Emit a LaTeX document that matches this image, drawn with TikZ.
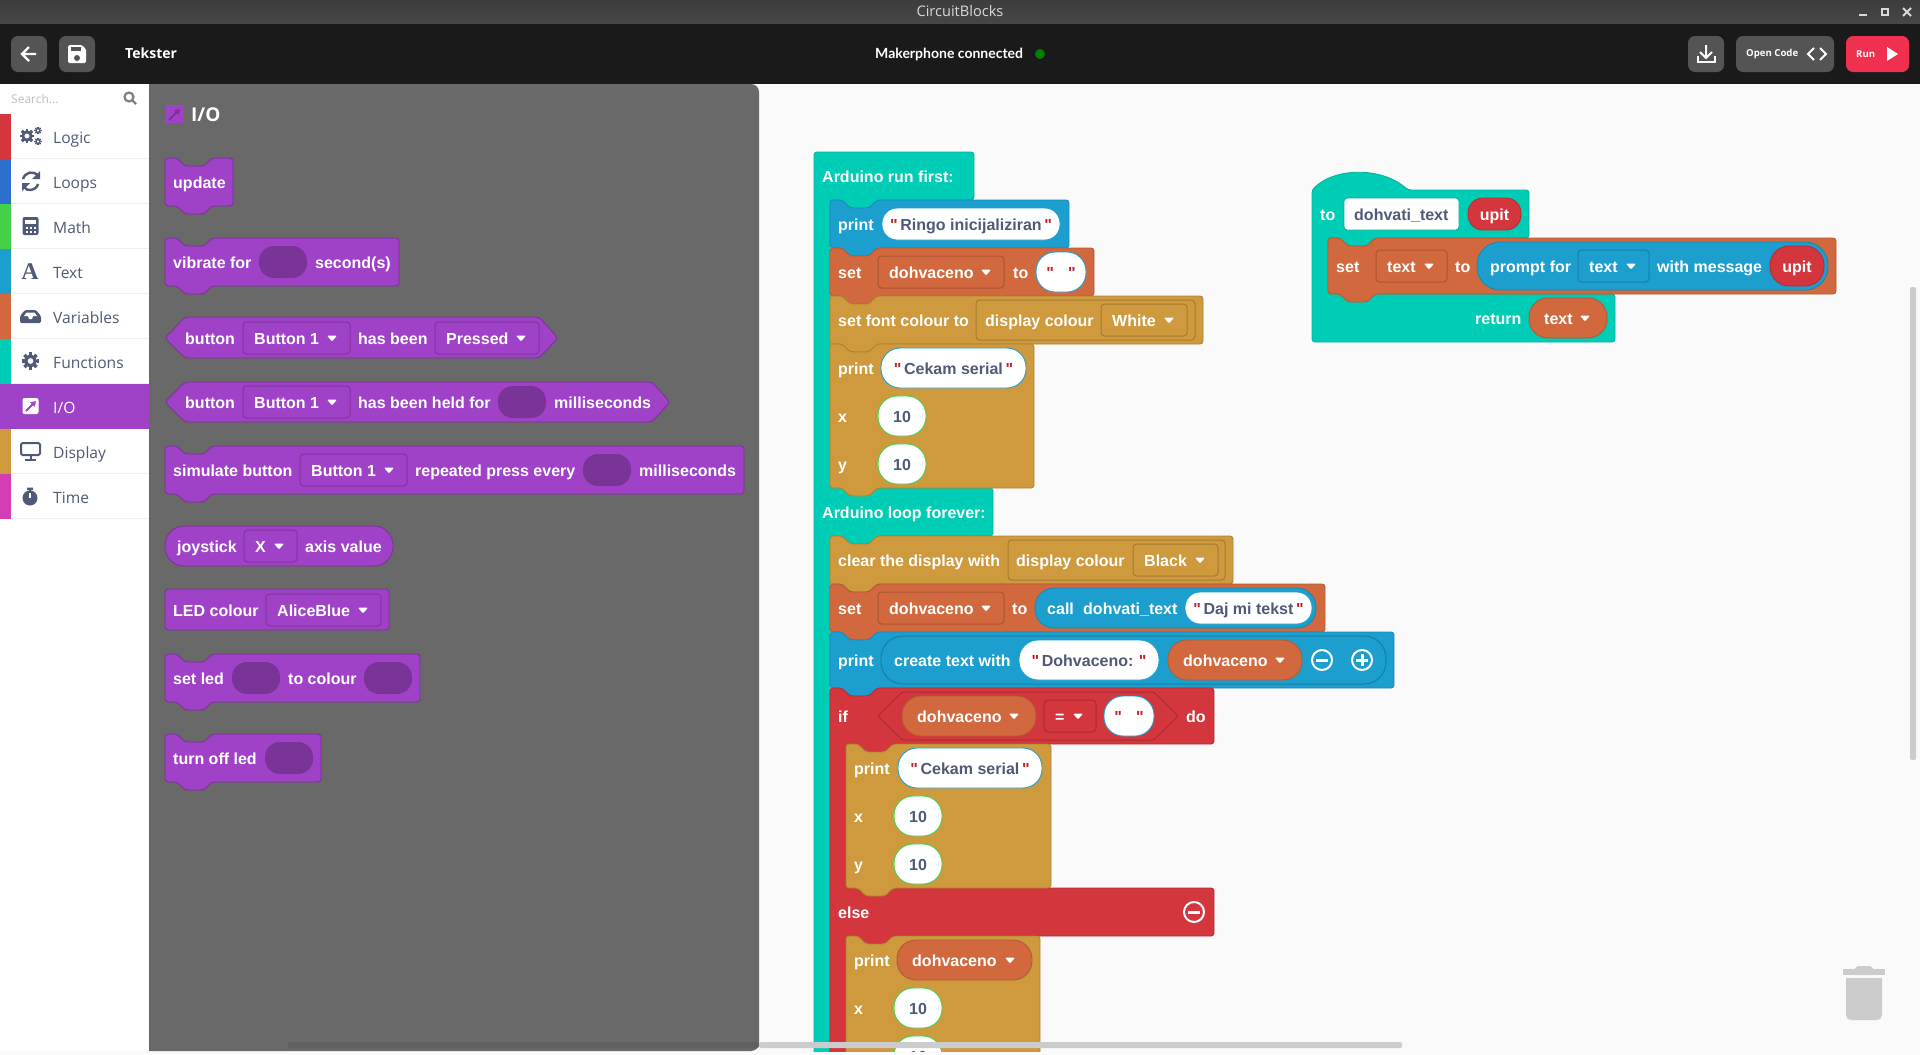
\documentclass[tikz,border=0pt]{standalone}
\usepackage{fontspec}
\setmainfont{Liberation Sans}
\newfontfamily\uifont{Open Sans}
\newfontfamily\latofont{Lato}
\newfontfamily\qtfont{Liberation Sans}
\usetikzlibrary{arrows.meta}
\definecolor{barhi}{HTML}{3D3D3D}
\definecolor{barlo}{HTML}{474747}
\definecolor{toolbar}{HTML}{1A1A1A}
\definecolor{toolbtn}{HTML}{545454}
\definecolor{runred}{HTML}{F0304F}
\definecolor{workbg}{HTML}{FAFAFA}
\definecolor{flyoutgray}{HTML}{696969}
\definecolor{scrollgray}{HTML}{CCCCCC}
\definecolor{icongray}{HTML}{505A78}
\definecolor{seplight}{HTML}{EEEEEE}
\definecolor{iopurple}{HTML}{9F42C8}
\definecolor{slotpurple}{HTML}{7A3396}
\definecolor{logicred}{HTML}{D3363C}
\definecolor{loopblue}{HTML}{2C6FCC}
\definecolor{mathgreen}{HTML}{44D049}
\definecolor{textblue}{HTML}{1C9FCE}
\definecolor{varorange}{HTML}{D2693E}
\definecolor{functeal}{HTML}{00CDB5}
\definecolor{dispgold}{HTML}{CE9A3D}
\definecolor{timepink}{HTML}{D53DB5}
\definecolor{quotered}{HTML}{C0202A}
\newcommand{\blockfont}{\fontsize{16}{18}\selectfont\bfseries}
\newcommand{\catfont}{\uifont\fontsize{15.6}{18}\selectfont}
\newcommand{\qt}{\textcolor{quotered}{\qtfont\bfseries"}}
% block with a notch on top and a tab below
\newcommand{\blockpath}[4]{(#1,#2) -- (#1+12,#2) -- (#1+20,#2+8) -- (#1+39,#2+8) -- (#1+47,#2) -- (#3,#2) -- (#3,#4) -- (#1+47,#4) -- (#1+39,#4+8) -- (#1+20,#4+8) -- (#1+12,#4) -- (#1,#4) -- cycle}
\newcommand{\ddfield}[5]{\draw[dropbox] (#1,#3-16) rectangle (#2,#3+16);
	\node[blocktxt] (#4) at (#1+11,#3) {#5};
	\fill[white, rounded corners=1pt] (#2-23,#3-2.5) -- (#2-13,#3-2.5) -- (#2-18,#3+3.5) -- cycle;}
\newcommand{\varpill}[5]{\draw[varfield] (#1,#3-20) rectangle (#2,#3+20);
	\node[blocktxt] (#4) at (#1+15,#3) {#5};
	\fill[white, rounded corners=1pt] (#2-27,#3-2.5) -- (#2-17,#3-2.5) -- (#2-22,#3+3.5) -- cycle;}
\newcommand{\slotoval}[3]{\fill[slotpurple, rounded corners=15pt] (#1,#3-16) rectangle (#2,#3+16);}
\newcommand{\strfld}[6]{\draw[strfield, rounded corners={(#4-#2)/2*1pt-1pt}] (#1,#2) rectangle (#3,#4);
	\node[graytxt, anchor=center] (#5) at ({(#1+#3)/2},{(#2+#4)/2}) {#6};}
\newcommand{\numfld}[3]{\draw[numfield] (#1,#2-20) rectangle (#1+48,#2+20);
	\node[graytxt, anchor=center] (#3) at (#1+24,#2) {10};}
\newcommand{\minusbtn}[2]{\draw[white, line width=2pt] (#1,#2) circle [radius=10];
	\draw[white, line width=3pt] (#1-6,#2) -- (#1+6,#2);}
\newcommand{\plusbtn}[2]{\minusbtn{#1}{#2}
	\draw[white, line width=3pt] (#1,#2-6) -- (#1,#2+6);}
\newcommand{\gearicon}[3]{\foreach \a in {0,45,...,315} \draw[icongray, line width=#3*0.55pt] (#1,#2) ++(\a:#3) -- ++(\a:#3*0.42);
	\draw[icongray, line width=#3*0.55pt] (#1,#2) circle [radius=#3*0.8];}
\begin{document}
\begin{tikzpicture}
	[x=1pt, y=-1pt,
	blocktxt/.style={anchor=west, inner sep=0pt, text=white, font=\blockfont, text height=13.5pt, text depth=0pt},
	graytxt/.style={blocktxt, text=icongray},
	cattxt/.style={anchor=west, inner sep=0pt, text=icongray, font=\catfont, text height=13.5pt, text depth=0pt},
	uibtn/.style={fill=toolbtn, rounded corners=7pt},
	iconline/.style={draw=icongray, line width=2.4pt},
	ioblock/.style={fill=iopurple, draw=slotpurple, line width=0.9pt, rounded corners=3pt},
	tealblock/.style={fill=functeal, draw=functeal!88!black, line width=0.9pt, rounded corners=3pt},
	blueblock/.style={fill=textblue, draw=textblue!88!black, line width=0.9pt, rounded corners=3pt},
	orangeblock/.style={fill=varorange, draw=varorange!85!black, line width=0.9pt, rounded corners=3pt},
	goldblock/.style={fill=dispgold, draw=dispgold!85!black, line width=0.9pt, rounded corners=3pt},
	redblock/.style={fill=logicred, draw=logicred!85!black, line width=0.9pt, rounded corners=3pt},
	dropbox/.style={draw=black, draw opacity=0.2, line width=1pt, rounded corners=3.5pt},
	varfield/.style={fill=varorange, draw=varorange!85!black, line width=0.9pt, rounded corners=19pt},
	strfield/.style={fill=white, draw=textblue, line width=0.9pt},
	numfield/.style={fill=white, draw=mathgreen, line width=0.9pt, rounded corners=19pt}]
	\useasboundingbox (0,0) rectangle (1920,1055);
	\fill[workbg] (0,0) rectangle (1920,1055);

	% title bar and tool bar
	\shade[top color=barhi, bottom color=barlo] (0,0) rectangle (1920,24);
	\fill[toolbar] (0,24) rectangle (1920,84);
	\node[inner sep=0pt, text=white!85!black, font=\uifont\fontsize{14.6}{16}\selectfont] (title) at (960,11.5) {CircuitBlocks};
	\draw[white!85!black, line width=2pt] (1859,15) -- (1867,15);
	\draw[white!85!black, line width=2pt] (1882,9) rectangle (1888,15);
	\draw[white!85!black, line width=2pt] (1903,8) -- (1911,16) (1911,8) -- (1903,16);

	\fill[uibtn] (11,36) rectangle (47,72);
	\draw[white, line width=2.2pt] (36,54) -- (22,54) (29,47) -- (22,54) -- (29,61);
	\fill[uibtn] (59,36) rectangle (95,72);
	\fill[white, rounded corners=1.5pt] (68,45) -- (82,45) -- (86,49) -- (86,63) -- (68,63) -- cycle;
	\fill[toolbtn] (71,47) rectangle (81,51);
	\fill[toolbtn] (77,58) circle [radius=3];
	\node[anchor=west, inner sep=0pt, text=white, font=\uifont\fontsize{14}{16}\selectfont\bfseries] (proj) at (125,53.5) {Tekster};

	\node[anchor=west, inner sep=0pt, text=white, font=\latofont\fontsize{14}{16}\selectfont\bfseries] (conn) at (875,54.5) {Makerphone connected};
	\fill[green!50!black] (1040,54) circle [radius=5];

	\fill[uibtn] (1688,36) rectangle (1724,72);
	\draw[white, line width=2pt] (1706,45) -- (1706,58) (1700,52) -- (1706,58) -- (1712,52);
	\draw[white, line width=2pt] (1698,56) -- (1698,62) -- (1715,62) -- (1715,56);
	\fill[uibtn] (1736,36) rectangle (1834,72);
	\node[anchor=west, inner sep=0pt, text=white, font=\uifont\fontsize{9.6}{12}\selectfont\bfseries] (opencode) at (1746,54) {Open Code};
	\draw[white, line width=2pt] (1814,48) -- (1808,54) -- (1814,60) (1820,48) -- (1826,54) -- (1820,60);
	\fill[fill=runred, rounded corners=7pt] (1846,36) rectangle (1909,72);
	\node[anchor=west, inner sep=0pt, text=white, font=\uifont\fontsize{9.6}{12}\selectfont\bfseries] (runlbl) at (1856,54) {Run};
	\fill[white] (1887,47) -- (1898,54) -- (1887,61) -- cycle;

	% main stack of the workspace
	\begin{scope}
	\clip (149,84) rectangle (1920,1051);
	\draw[tealblock] (814,152) -- (974,152) -- (974,200) -- (877,200) -- (869,208) -- (850,208) -- (842,200) -- (830,200) -- (830,488) -- (993,488) -- (993,536) -- (877,536) -- (869,544) -- (850,544) -- (842,536) -- (830,536) -- (830,1070) -- (814,1070) -- cycle;
	\node[blocktxt] (runfirst) at (822,176) {Arduino run first:};
	\node[blocktxt] (loopfor) at (822,512) {Arduino loop forever:};

	\draw[blueblock] \blockpath{830}{200}{1069}{248};
	\node[blocktxt] (pr1) at (838,224) {print};
	\strfld{882}{208}{1060}{240}{ringo}{\qt\,Ringo inicijaliziran\,\qt}

	\draw[orangeblock] \blockpath{830}{248}{1094}{296};
	\node[blocktxt] (set1) at (838,272) {set};
	\ddfield{878}{1004}{272}{dh1}{dohvaceno}
	\node[blocktxt] (to1) at (1013,272) {to};
	\strfld{1036}{252}{1086}{292}{empty1}{\qt\hspace{14pt}\qt}

	\draw[goldblock] \blockpath{830}{296}{1203}{344};
	\node[blocktxt] (font1) at (838,320) {set font colour to};
	\draw[dropbox] (976,300) rectangle (1195,340);
	\node[blocktxt] (col1) at (985,320) {display colour};
	\ddfield{1101}{1187}{320}{white1}{White}

	\draw[goldblock] \blockpath{830}{344}{1034}{488};
	\node[blocktxt] (pr2) at (838,368) {print};
	\strfld{881}{348}{1026}{388}{cekam1}{\qt\,Cekam serial\,\qt}
	\node[blocktxt] (x1) at (838,416) {x};
	\numfld{878}{416}{n1}
	\node[blocktxt] (y1) at (838,464) {y};
	\numfld{878}{464}{n2}

	\draw[goldblock] \blockpath{830}{536}{1233}{584};
	\node[blocktxt] (clear1) at (838,560) {clear the display with};
	\draw[dropbox] (1008,540) rectangle (1225,580);
	\node[blocktxt] (col2) at (1016,560) {display colour};
	\ddfield{1133}{1218}{560}{black1}{Black}

	\draw[orangeblock] \blockpath{830}{584}{1325}{632};
	\node[blocktxt] (set2) at (838,608) {set};
	\ddfield{878}{1004}{608}{dh2}{dohvaceno}
	\node[blocktxt] (to2) at (1012,608) {to};
	\draw[fill=textblue, draw=textblue!85!black, line width=0.9pt, rounded corners=19pt] (1035,588) rectangle (1316,628);
	\node[blocktxt] (call1) at (1047,608) {call};
	\node[blocktxt] (call2) at (1083,608) {dohvati\_text};
	\strfld{1185}{592}{1312}{624}{daj}{\qt\,Daj mi tekst\,\qt}

	\draw[blueblock] \blockpath{830}{632}{1394}{688};
	\node[blocktxt] (pr3) at (838,660) {print};
	\draw[dropbox, rounded corners=22pt] (881,636) rectangle (1386,684);
	\node[blocktxt] (create) at (894,660) {create text with};
	\strfld{1019}{640}{1159}{680}{dohv}{\qt\,Dohvaceno:\,\,\qt}
	\varpill{1168}{1302}{660}{dh3}{dohvaceno}
	\minusbtn{1322}{660}
	\plusbtn{1362}{660}

	\draw[redblock] (830,688) -- (842,688) -- (850,696) -- (869,696) -- (877,688) -- (1214,688) -- (1214,744) -- (893,744) -- (885,752) -- (866,752) -- (858,744) -- (846,744) -- (846,888) -- (1214,888) -- (1214,936) -- (893,936) -- (885,944) -- (866,944) -- (858,936) -- (846,936) -- (846,1070) -- (830,1070) -- cycle;
	\node[blocktxt] (if1) at (838,716) {if};
	\draw[dropbox, rounded corners=2pt] (878,716) -- (902,692) -- (1154,692) -- (1178,716) -- (1154,740) -- (902,740) -- cycle;
	\varpill{902}{1036}{716}{dh4}{dohvaceno}
	\ddfield{1044}{1096}{716}{eq1}{=}
	\strfld{1104}{696}{1154}{736}{empty2}{\qt\hspace{14pt}\qt}
	\node[blocktxt] (do1) at (1186,716) {do};

	\draw[goldblock] \blockpath{846}{744}{1051}{888};
	\node[blocktxt] (pr4) at (854,768) {print};
	\strfld{898}{748}{1042}{788}{cekam2}{\qt\,Cekam serial\,\qt}
	\node[blocktxt] (x2) at (854,816) {x};
	\numfld{894}{816}{n3}
	\node[blocktxt] (y2) at (854,864) {y};
	\numfld{894}{864}{n4}

	\node[blocktxt] (else1) at (838,912) {else};
	\minusbtn{1194}{912}

	\draw[goldblock] \blockpath{846}{936}{1040}{1100};
	\node[blocktxt] (pr5) at (854,960) {print};
	\varpill{897}{1032}{960}{dh5}{dohvaceno}
	\node[blocktxt] (x3) at (854,1008) {x};
	\numfld{894}{1008}{n5}
	\numfld{894}{1056}{n6}
	\end{scope}

	% procedure block
	\draw[tealblock] (1312,190) .. controls (1335,167) and (1382,167) .. (1408,190) -- (1529,190) -- (1529,238) -- (1375,238) -- (1367,246) -- (1348,246) -- (1340,238) -- (1328,238) -- (1328,294) -- (1615,294) -- (1615,342) -- (1312,342) -- cycle;
	\node[blocktxt] (to3) at (1320,214) {to};
	\draw[fill=white, draw=functeal!85!black, line width=0.9pt, rounded corners=3pt] (1344,198) rectangle (1459,230);
	\node[graytxt] (fname) at (1354,214) {dohvati\_text};
	\draw[fill=logicred, draw=logicred!85!black, line width=0.9pt, rounded corners=15pt] (1468,198) rectangle (1521,230);
	\node[blocktxt, anchor=center] (upit1) at (1494.5,214) {upit};
	\draw[orangeblock] \blockpath{1328}{238}{1836}{294};
	\node[blocktxt] (set3) at (1336,266) {set};
	\ddfield{1376}{1447}{266}{txt1}{text}
	\node[blocktxt] (to4) at (1455,266) {to};
	\draw[fill=textblue, draw=textblue!85!black, line width=0.9pt, rounded corners=23pt] (1477,242) rectangle (1828,290);
	\node[blocktxt] (prompt) at (1490,266) {prompt for};
	\ddfield{1578}{1649}{266}{txt2}{text}
	\node[blocktxt] (msg) at (1657,266) {with message};
	\draw[fill=logicred, draw=logicred!85!black, line width=0.9pt, rounded corners=19pt] (1770,246) rectangle (1824,286);
	\node[blocktxt, anchor=center] (upit2) at (1797,266) {upit};
	\node[blocktxt] (ret) at (1475,318) {return};
	\varpill{1529}{1607}{318}{txt3}{text}

	% trash and scrollbars
	\fill[scrollgray] (1843,969) rectangle (1885,975);
	\fill[scrollgray, rounded corners=2pt] (1853,975) -- (1856,966) -- (1872,966) -- (1875,975) -- cycle;
	\fill[scrollgray] (1846,978) -- (1882,978) -- (1882,1014) [rounded corners=5pt] -- (1882,1020) -- (1846,1020) [sharp corners] -- (1846,1014) -- cycle;
	\fill[scrollgray, rounded corners=2pt] (1910,287) rectangle (1916,760);

	% side bar
	\fill[white] (0,84) rectangle (149,1051);
	\node[anchor=west, inner sep=0pt, text=black!25, font=\uifont\fontsize{12}{14}\selectfont] (search) at (11,99) {Search...};
	\draw[gray, line width=2.2pt] (129,97) circle [radius=4.5] (132.5,100.5) -- (136,104);
	\foreach \ypos/\col/\lbl/\id in {114/logicred/Logic/logic, 159/loopblue/Loops/loops, 204/mathgreen/Math/math, 249/textblue/Text/txt, 294/varorange/Variables/vars, 339/functeal/Functions/funcs, 429/dispgold/Display/disp, 474/timepink/Time/time} {
		\fill[\col] (0,\ypos) rectangle (11,\ypos+45);
		\draw[seplight, line width=1pt] (11,\ypos+44.5) -- (149,\ypos+44.5);
		\node[cattxt] (cat\id) at (53,\ypos+23) {\lbl};
	}
	\fill[iopurple] (0,384) rectangle (149,429);
	\node[cattxt, text=white] (catio) at (53,407) {I/O};

	% side bar icons
	\gearicon{27}{136}{5.2}
	\gearicon{38}{130.5}{2.6}
	\gearicon{38}{141.5}{2.6}
	\draw[iconline] (23,179) .. controls (25,172) and (34,170) .. (38,176);
	\fill[icongray] (40,171) -- (40,179) -- (32,179) -- cycle;
	\draw[iconline] (38,184) .. controls (36,191) and (27,192) .. (24,187);
	\fill[icongray] (22,191) -- (22,183) -- (30,183) -- cycle;
	\fill[icongray, rounded corners=2pt] (22.5,217) rectangle (38.5,235);
	\fill[white] (25,220) rectangle (36,224);
	\foreach \xd in {25.5,29.5,33.5} {\fill[white] (\xd,226.5) rectangle (\xd+2.5,229); }
	\foreach \xd in {25.5,29.5} {\fill[white] (\xd,230.5) rectangle (\xd+2.5,233); }
	\fill[white] (33.5,230.5) rectangle (36,233);
	\node[inner sep=0pt, text=icongray, font=\fontspec{Liberation Serif}\fontsize{24}{26}\selectfont\bfseries] (iconA) at (30,272) {A};
	\fill[icongray, rounded corners=1.5pt] (20,316) -- (25,310) -- (36,310) -- (41,316) -- (41,323) -- (20,323) -- cycle;
	\fill[white] (24,316) -- (26.5,312.5) -- (34.5,312.5) -- (37,316) -- (33,316) -- (32,319) -- (29,319) -- (28,316) -- cycle;
	\gearicon{30.5}{361}{6}
	\fill[white, rounded corners=2pt] (22.5,398) rectangle (38.5,414);
	\draw[iopurple, line width=2pt, -{Triangle[length=5pt, width=6pt]}] (26,411) -- (36,401);
	\draw[icongray, line width=2pt, rounded corners=1.5pt] (21,443) rectangle (40,455);
	\draw[icongray, line width=2pt] (30.5,455) -- (30.5,459) (25,459.5) -- (36,459.5);
	\fill[icongray] (30,498) circle [radius=7.5];
	\fill[icongray] (27,487.5) rectangle (33,490) (29,489) rectangle (31,492);
	\draw[white, line width=1.5pt] (30,493) -- (30,498);

	% flyout
	\fill[flyoutgray] (149,1051) -- (149,84) -- (700,84) [rounded corners=8pt] -- (759,84) -- (759,1051) [sharp corners] -- (700,1051) -- cycle;
	\fill[black!62, rounded corners=2pt] (288,1042) rectangle (759,1048);
	\fill[scrollgray, rounded corners=2pt] (759,1042) rectangle (1402,1048);
	\fill[iopurple] (165,105) rectangle (184,123);
	\draw[slotpurple, line width=2pt, -{Triangle[length=5pt, width=6pt]}] (169,120) -- (180,109);
	\node[anchor=west, inner sep=0pt, text=white, font=\uifont\fontsize{19}{22}\selectfont\bfseries] (iohead) at (191,115) {I/O};

	\draw[ioblock] \blockpath{165}{158}{233}{206};
	\node[blocktxt] (upd) at (173,182) {update};

	\draw[ioblock] \blockpath{165}{238}{399}{286};
	\node[blocktxt] (vib) at (173,262) {vibrate for};
	\slotoval{259}{307}{262}
	\node[blocktxt] (sec) at (315,262) {second(s)};

	\draw[ioblock] (165,338) -- (185,317) -- (539,317) -- (558,338) -- (539,358) -- (185,358) -- cycle;
	\node[blocktxt] (btn1) at (185,338) {button};
	\ddfield{243}{350}{338}{b1}{Button 1}
	\node[blocktxt] (been) at (358,338) {has been};
	\ddfield{435}{539}{338}{pressed}{Pressed}

	\draw[ioblock] (165,402) -- (185,382) -- (652,382) -- (670,402) -- (652,422) -- (185,422) -- cycle;
	\node[blocktxt] (btn2) at (185,402) {button};
	\ddfield{243}{350}{402}{b2}{Button 1}
	\node[blocktxt] (held) at (358,402) {has been held for};
	\slotoval{498}{546}{402}
	\node[blocktxt] (ms1) at (554,402) {milliseconds};

	\draw[ioblock] \blockpath{165}{446}{744}{494};
	\node[blocktxt] (sim) at (173,470) {simulate button};
	\ddfield{300}{407}{470}{b3}{Button 1}
	\node[blocktxt] (rep) at (415,470) {repeated press every};
	\slotoval{583}{631}{470}
	\node[blocktxt] (ms2) at (639,470) {milliseconds};

	\draw[ioblock, rounded corners=19pt] (165,526) rectangle (393,566);
	\node[blocktxt] (joy) at (177,546) {joystick};
	\ddfield{244}{297}{546}{xaxis}{X}
	\node[blocktxt] (axis) at (305,546) {axis value};

	\draw[ioblock] (165,589) rectangle (389,630);
	\node[blocktxt] (led1) at (173,610) {LED colour};
	\ddfield{266}{381}{610}{alice}{AliceBlue}

	\draw[ioblock] \blockpath{165}{654}{420}{702};
	\node[blocktxt] (led2) at (173,678) {set led};
	\slotoval{232}{280}{678}
	\node[blocktxt] (tocol) at (288,678) {to colour};
	\slotoval{364}{412}{678}

	\draw[ioblock] \blockpath{165}{734}{321}{782};
	\node[blocktxt] (off) at (173,758) {turn off led};
	\slotoval{265}{313}{758}
\end{tikzpicture}
\end{document}
